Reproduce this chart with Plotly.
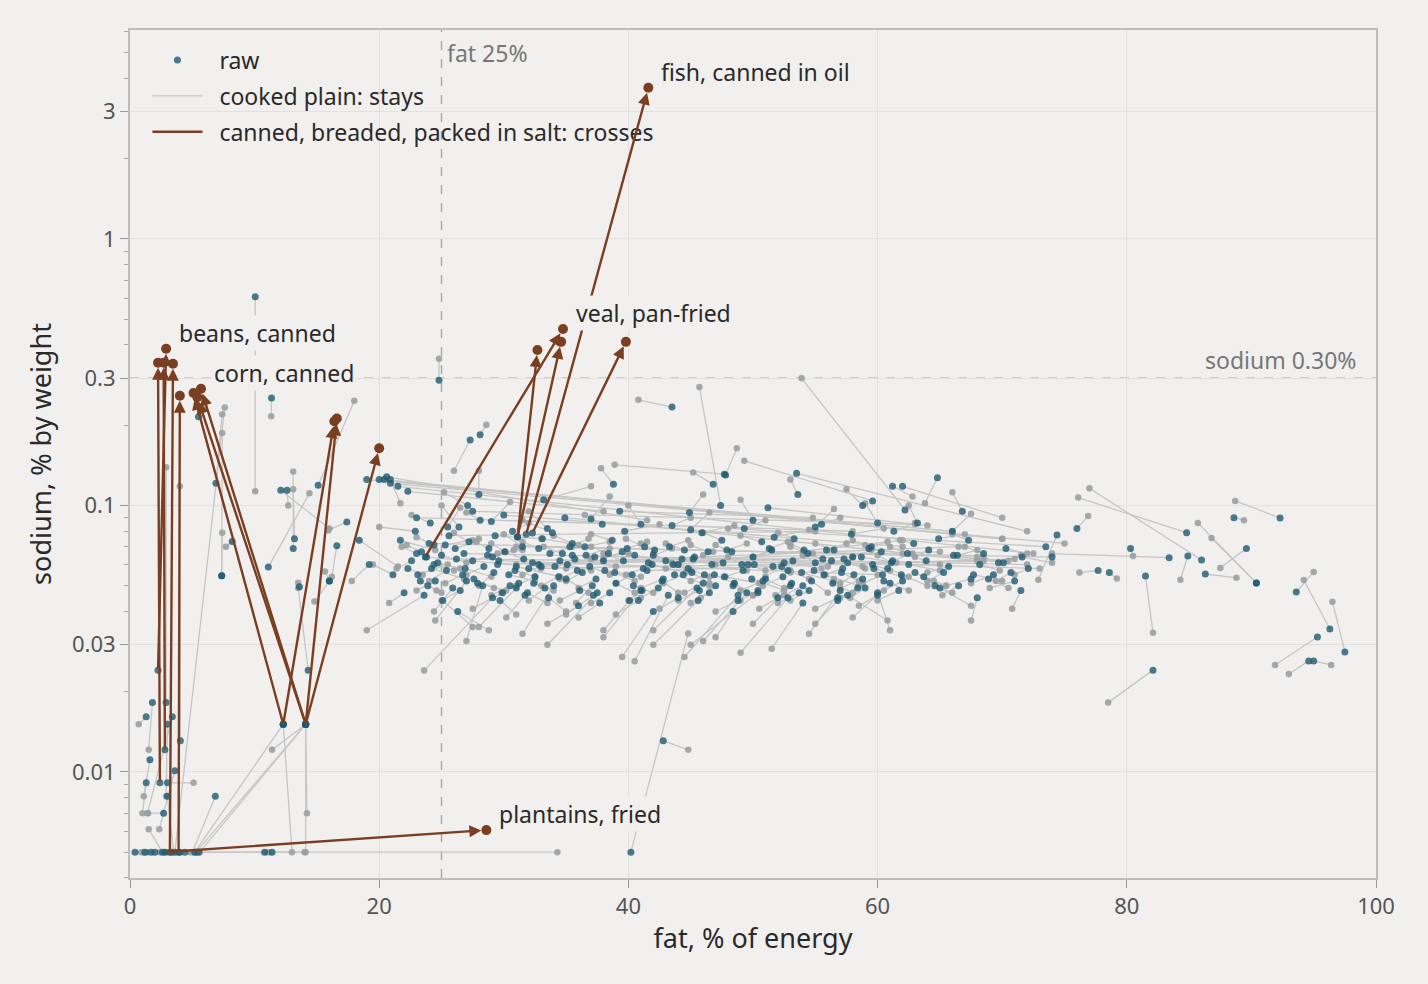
import math

import plotly.graph_objects as go

# ── Data: raw -> cooked pairs (fat % of energy, sodium % by weight) ──────────

# low-fat foods, many at the detection floor
LOW_RAW_FAT = [
    0.4, 1.2, 1.7, 2.0, 2.6, 3.3, 3.6, 4.0, 4.4, 5.2,
    5.5, 10.8, 11.4, 1.3, 1.8, 1.6, 1.3, 3.4, 3.0, 6.85,
    4.04, 3.6, 3.0, 3.0, 2.7, 14.1, 14.1, 12.3, 14.1, 14.1,
    12.3, 14.1, 40.2, 42.8, 10.05, 11.36, 6.9, 7.36, 7.36, 8.2,
    13.1, 13.2, 11.1, 12.1, 12.6, 15.1, 17.4, 16.6, 16.0, 13.6,
    16.0, 14.3, 5.5, 20.9, 18.4, 19.2, 2.9, 20.0, 19.0, 20.9,
]
LOW_RAW_NA = [
    0.005, 0.005, 0.005, 0.005, 0.005, 0.005, 0.005, 0.005, 0.005, 0.005,
    0.005, 0.005, 0.005, 0.0161, 0.0182, 0.0111, 0.0091, 0.0161, 0.0151, 0.0081,
    0.0131, 0.0101, 0.0091, 0.0081, 0.0070, 0.0151, 0.0151, 0.0151, 0.0151, 0.0151,
    0.0151, 0.0151, 0.005, 0.0131, 0.607, 0.253, 0.121, 0.0545, 0.0545, 0.0733,
    0.069, 0.075, 0.0587, 0.114, 0.114, 0.119, 0.0867, 0.0706, 0.052, 0.0495,
    0.052, 0.0241, 0.215, 0.125, 0.074, 0.060, 0.0182, 0.125, 0.125, 0.121,
]
LOW_COOKED_FAT = [
    1.1, 0.9, 1.4, 2.4, 1.5, 2.9, 7.6, 4.8, 5.4, 14.0,
    34.3, 11.2, 11.0, 0.7, 1.5, 1.1, 1.0, 1.4, 2.9, 5.0,
    4.0, 2.35, 5.1, 3.5, 1.45, 5.3, 5.6, 5.2, 14.2, 14.1,
    13.0, 11.4, 44.8, 44.8, 10.05, 11.33, 7.4, 7.4, 7.4, 7.7,
    13.1, 13.1, 14.4, 16.0, 12.7, 18.0, 15.9, 16.2, 15.65, 13.5,
    14.8, 13.5, 6.0, 21.7, 21.5, 17.8, 2.9, 70.0, 66.0, 75.0,
]
LOW_COOKED_NA = [
    0.005, 0.005, 0.005, 0.005, 0.0061, 0.005, 0.233, 0.005, 0.005, 0.005,
    0.005, 0.005, 0.005, 0.0151, 0.0121, 0.0081, 0.0070, 0.0070, 0.0081, 0.005,
    0.118, 0.0061, 0.0091, 0.005, 0.0070, 0.005, 0.005, 0.005, 0.0070, 0.005,
    0.005, 0.0121, 0.0331, 0.0121, 0.113, 0.216, 0.220, 0.187, 0.079, 0.070,
    0.134, 0.115, 0.111, 0.082, 0.100, 0.247, 0.0806, 0.054, 0.0565, 0.0513,
    0.0436, 0.049, 0.230, 0.102, 0.059, 0.052, 0.139, 0.075, 0.080, 0.072,
]

# the main band of meats, fish, nuts and oils
MID_RAW_FAT = [
    21.7, 22.6, 23.1, 23.4, 24.2, 23.8, 24.5, 25.3, 24.1, 25.9,
    21.1, 22.9, 26.2, 20.4, 21.5, 25.1, 23.6, 26.4, 24.4, 25.6,
    26.9, 27.2, 27.9, 28.1, 28.7, 29.2, 29.3, 29.9, 30.1, 30.7,
    31.0, 31.5, 27.1, 28.0, 31.7, 26.3, 29.6, 30.0, 29.1, 28.3,
    32.3, 32.5, 33.1, 33.3, 33.9, 34.1, 34.7, 35.0, 35.5, 35.7,
    36.3, 36.5, 37.1, 37.3, 37.9, 33.2, 36.0, 34.9, 32.8, 37.2,
    38.1, 38.7, 39.0, 39.5, 39.7, 40.3, 40.5, 41.1, 41.3, 41.9,
    42.1, 42.7, 43.0, 43.5, 43.7, 38.8, 40.1, 42.0, 43.2, 39.3,
    44.3, 44.5, 45.1, 45.3, 45.9, 46.1, 46.7, 47.0, 47.5, 47.7,
    48.3, 48.5, 49.1, 49.3, 49.9, 45.6, 48.8, 46.8, 44.9, 48.4,
    50.1, 50.7, 51.0, 51.5, 51.7, 52.3, 52.5, 53.1, 53.3, 53.9,
    54.1, 54.7, 55.0, 55.5, 55.7, 50.4, 52.8, 54.0, 51.2, 53.6,
    56.3, 56.5, 57.1, 57.3, 57.9, 58.1, 58.7, 59.0, 59.5, 59.7,
    60.3, 60.5, 61.1, 61.3, 61.9, 57.6, 60.0, 58.8, 62.0, 56.8,
    62.5, 62.9, 63.7, 64.1, 64.9, 65.3, 66.1, 66.5, 67.3, 67.7,
    68.5, 68.9, 69.7, 65.0, 63.2, 66.8, 70.3, 70.7, 71.6, 72.1,
]
MID_RAW_NA = [
    0.074, 0.062, 0.055, 0.067, 0.058, 0.064, 0.052, 0.071, 0.086, 0.049,
    0.055, 0.080, 0.063, 0.125, 0.118, 0.044, 0.046, 0.083, 0.060, 0.077,
    0.058, 0.073, 0.051, 0.088, 0.065, 0.056, 0.077, 0.047, 0.067, 0.080,
    0.059, 0.070, 0.100, 0.110, 0.046, 0.040, 0.062, 0.092, 0.045, 0.050,
    0.061, 0.054, 0.075, 0.049, 0.079, 0.059, 0.066, 0.053, 0.072, 0.063,
    0.056, 0.070, 0.050, 0.064, 0.085, 0.105, 0.042, 0.090, 0.060, 0.046,
    0.057, 0.074, 0.051, 0.067, 0.080, 0.055, 0.065, 0.048, 0.070, 0.060,
    0.068, 0.052, 0.062, 0.084, 0.055, 0.120, 0.044, 0.040, 0.046, 0.095,
    0.063, 0.068, 0.056, 0.064, 0.079, 0.055, 0.060, 0.050, 0.074, 0.054,
    0.067, 0.051, 0.060, 0.082, 0.053, 0.044, 0.046, 0.120, 0.094, 0.040,
    0.060, 0.073, 0.053, 0.068, 0.076, 0.059, 0.061, 0.051, 0.075, 0.056,
    0.068, 0.052, 0.061, 0.085, 0.055, 0.047, 0.045, 0.043, 0.098, 0.110,
    0.062, 0.068, 0.056, 0.063, 0.078, 0.055, 0.064, 0.049, 0.070, 0.058,
    0.067, 0.052, 0.061, 0.080, 0.055, 0.046, 0.047, 0.100, 0.118, 0.044,
    0.060, 0.072, 0.054, 0.068, 0.075, 0.056, 0.065, 0.050, 0.074, 0.055,
    0.066, 0.053, 0.061, 0.049, 0.086, 0.095, 0.069, 0.056, 0.064, 0.058,
]
MID_COOKED_FAT = [
    24.5, 21.4, 25.5, 22.2, 26.8, 31.0, 23.0, 28.0, 22.6, 24.4,
    19.5, 20.0, 65.0, 70.0, 72.5, 27.5, 19.0, 25.0, 26.0, 55.0,
    29.0, 26.0, 30.2, 27.0, 31.5, 28.0, 33.0, 27.5, 29.0, 32.0,
    34.5, 30.0, 25.2, 28.0, 30.2, 28.8, 60.0, 62.0, 23.6, 27.0,
    35.0, 31.0, 36.0, 32.0, 31.5, 37.0, 33.2, 36.8, 34.0, 39.0,
    35.0, 38.5, 35.8, 40.0, 36.5, 37.0, 33.5, 68.0, 58.0, 35.0,
    41.0, 37.0, 40.5, 38.0, 42.5, 39.0, 43.5, 40.0, 39.8, 44.6,
    41.0, 44.0, 42.0, 45.0, 46.5, 37.8, 38.0, 39.5, 40.5, 54.8,
    47.0, 43.0, 46.5, 44.0, 48.5, 45.0, 49.5, 45.8, 46.0, 50.5,
    47.0, 50.0, 48.0, 51.0, 52.5, 42.0, 44.5, 45.2, 46.0, 47.0,
    53.0, 49.0, 52.5, 50.0, 54.5, 51.0, 55.5, 51.8, 52.0, 56.5,
    53.0, 56.0, 54.0, 57.0, 58.5, 45.0, 49.0, 51.5, 64.0, 53.0,
    58.8, 55.0, 58.5, 56.0, 60.5, 57.0, 61.5, 57.8, 58.0, 62.0,
    59.0, 62.5, 60.0, 63.0, 64.0, 60.8, 61.0, 57.5, 70.0, 55.0,
    65.0, 61.8, 65.5, 63.0, 67.0, 64.0, 68.5, 65.2, 66.0, 70.0,
    67.0, 70.5, 68.5, 67.5, 62.5, 66.0, 72.0, 69.5, 74.0, 71.0,
]
MID_COOKED_NA = [
    0.068, 0.058, 0.060, 0.071, 0.053, 0.060, 0.048, 0.075, 0.092, 0.040,
    0.060, 0.083, 0.060, 0.075, 0.066, 0.035, 0.034, 0.100, 0.057, 0.080,
    0.054, 0.079, 0.048, 0.094, 0.068, 0.050, 0.075, 0.041, 0.072, 0.086,
    0.054, 0.078, 0.112, 0.135, 0.038, 0.034, 0.055, 0.070, 0.024, 0.031,
    0.058, 0.050, 0.071, 0.044, 0.088, 0.063, 0.070, 0.047, 0.077, 0.059,
    0.052, 0.073, 0.043, 0.066, 0.092, 0.118, 0.036, 0.062, 0.064, 0.039,
    0.054, 0.078, 0.047, 0.063, 0.085, 0.051, 0.061, 0.044, 0.075, 0.056,
    0.072, 0.047, 0.066, 0.090, 0.050, 0.138, 0.034, 0.027, 0.026, 0.090,
    0.060, 0.072, 0.051, 0.060, 0.084, 0.052, 0.057, 0.045, 0.079, 0.051,
    0.071, 0.046, 0.064, 0.088, 0.048, 0.030, 0.027, 0.133, 0.110, 0.032,
    0.057, 0.077, 0.049, 0.064, 0.081, 0.054, 0.058, 0.046, 0.079, 0.052,
    0.072, 0.047, 0.065, 0.090, 0.050, 0.030, 0.028, 0.029, 0.084, 0.125,
    0.059, 0.072, 0.052, 0.059, 0.082, 0.051, 0.061, 0.045, 0.074, 0.054,
    0.071, 0.048, 0.065, 0.086, 0.050, 0.037, 0.034, 0.115, 0.090, 0.036,
    0.057, 0.074, 0.050, 0.064, 0.078, 0.052, 0.062, 0.046, 0.078, 0.052,
    0.070, 0.049, 0.064, 0.042, 0.100, 0.112, 0.066, 0.052, 0.061, 0.055,
]

# second batch of the main band (denser core, long and downward links)
CORE_RAW_FAT = [
    22.3, 23.0, 23.9, 24.7, 25.4, 26.1, 26.7, 27.5, 28.4, 29.1,
    22.0, 23.3, 24.4, 25.0, 26.5, 27.6, 28.8, 29.7, 30.4, 31.2,
    30.9, 31.6, 32.4, 33.0, 33.7, 34.4, 35.1, 35.9, 36.6, 37.4,
    30.5, 31.9, 32.8, 33.6, 34.5, 35.3, 36.1, 36.9, 37.7, 38.4,
    38.9, 39.6, 40.4, 41.2, 42.0, 42.8, 43.6, 44.4, 45.2, 46.0,
    38.5, 39.9, 40.8, 41.6, 42.4, 43.3, 44.0, 44.8, 45.7, 46.4,
    46.9, 47.6, 48.4, 49.2, 50.0, 50.8, 51.6, 52.4, 53.2, 54.0,
    46.5, 47.9, 48.8, 49.6, 50.4, 51.3, 52.0, 52.8, 53.7, 54.4,
    54.9, 55.6, 56.4, 57.2, 58.0, 58.8, 59.6, 60.4, 61.2, 62.0,
    54.5, 55.9, 56.8, 57.6, 58.4, 59.3, 60.0, 60.8, 61.7, 62.4,
    63.0, 63.9, 64.6, 65.7, 66.4, 67.5, 68.2, 69.3, 70.1, 71.0,
    24.0, 26.8, 29.5, 32.0, 35.5, 38.0, 41.5, 44.0, 23.0, 27.5,
    27.0, 31.0, 34.0, 37.5, 41.0, 45.5, 49.5, 53.0, 57.0, 61.0,
    25.5, 29.0, 33.5, 37.0, 41.0, 45.0, 50.0, 55.0, 60.0, 66.0,
]
CORE_RAW_NA = [
    0.058, 0.066, 0.050, 0.061, 0.057, 0.069, 0.055, 0.062, 0.059, 0.064,
    0.047, 0.052, 0.071, 0.065, 0.048, 0.053, 0.069, 0.044, 0.055, 0.051,
    0.057, 0.063, 0.051, 0.059, 0.066, 0.054, 0.060, 0.057, 0.065, 0.053,
    0.050, 0.047, 0.069, 0.045, 0.062, 0.070, 0.048, 0.059, 0.043, 0.066,
    0.056, 0.062, 0.050, 0.058, 0.065, 0.053, 0.060, 0.055, 0.063, 0.051,
    0.047, 0.069, 0.044, 0.061, 0.049, 0.070, 0.045, 0.058, 0.048, 0.067,
    0.055, 0.061, 0.050, 0.057, 0.064, 0.052, 0.059, 0.054, 0.062, 0.050,
    0.047, 0.068, 0.044, 0.060, 0.048, 0.069, 0.045, 0.057, 0.047, 0.066,
    0.057, 0.063, 0.051, 0.058, 0.064, 0.053, 0.060, 0.055, 0.062, 0.052,
    0.048, 0.068, 0.045, 0.061, 0.049, 0.069, 0.046, 0.058, 0.048, 0.066,
    0.056, 0.062, 0.050, 0.059, 0.065, 0.053, 0.060, 0.055, 0.061, 0.052,
    0.072, 0.066, 0.060, 0.058, 0.065, 0.062, 0.057, 0.060, 0.090, 0.095,
    0.052, 0.049, 0.050, 0.047, 0.048, 0.049, 0.047, 0.050, 0.048, 0.051,
    0.083, 0.087, 0.082, 0.089, 0.085, 0.081, 0.088, 0.083, 0.086, 0.080,
]
CORE_COOKED_FAT = [
    23.5, 21.8, 25.0, 26.5, 24.0, 27.8, 25.3, 29.5, 27.0, 30.8,
    20.8, 24.6, 23.0, 27.0, 25.0, 29.2, 27.5, 31.0, 32.5, 29.8,
    32.5, 30.0, 34.0, 31.5, 35.5, 33.0, 37.0, 34.5, 38.5, 36.0,
    29.0, 33.5, 31.5, 35.0, 33.0, 36.8, 34.5, 38.5, 36.0, 37.0,
    40.5, 38.0, 42.0, 39.8, 43.5, 41.0, 45.0, 42.8, 46.8, 44.5,
    37.0, 41.5, 39.0, 43.0, 41.0, 44.8, 42.5, 46.5, 44.0, 45.0,
    48.5, 46.0, 50.0, 47.8, 51.5, 49.0, 53.0, 50.8, 54.8, 52.5,
    45.0, 49.5, 47.0, 51.0, 49.0, 52.8, 50.5, 54.5, 52.0, 53.0,
    56.5, 54.0, 58.0, 55.8, 59.5, 57.0, 61.0, 58.8, 62.8, 60.5,
    53.0, 57.5, 55.0, 59.0, 57.0, 60.8, 58.5, 62.5, 60.0, 61.0,
    64.5, 62.0, 66.0, 64.0, 68.0, 65.5, 69.8, 67.5, 71.5, 69.0,
    68.0, 72.0, 65.0, 70.5, 73.0, 66.5, 71.0, 62.0, 58.0, 63.0,
    24.5, 28.0, 31.5, 33.5, 38.0, 42.0, 46.0, 50.0, 54.5, 58.0,
    26.5, 30.5, 32.0, 38.5, 40.0, 46.5, 49.0, 56.5, 59.0, 67.5,
]
CORE_COOKED_NA = [
    0.055, 0.070, 0.047, 0.058, 0.052, 0.073, 0.051, 0.066, 0.055, 0.068,
    0.043, 0.048, 0.076, 0.061, 0.044, 0.049, 0.074, 0.039, 0.052, 0.047,
    0.054, 0.067, 0.048, 0.055, 0.070, 0.050, 0.057, 0.053, 0.069, 0.049,
    0.046, 0.043, 0.073, 0.040, 0.058, 0.075, 0.044, 0.055, 0.038, 0.070,
    0.052, 0.066, 0.047, 0.055, 0.069, 0.049, 0.057, 0.051, 0.067, 0.047,
    0.043, 0.073, 0.039, 0.058, 0.045, 0.074, 0.041, 0.054, 0.044, 0.071,
    0.051, 0.065, 0.046, 0.054, 0.068, 0.048, 0.056, 0.050, 0.066, 0.046,
    0.043, 0.072, 0.040, 0.057, 0.044, 0.073, 0.041, 0.053, 0.043, 0.070,
    0.053, 0.067, 0.047, 0.055, 0.068, 0.049, 0.057, 0.051, 0.066, 0.048,
    0.044, 0.072, 0.041, 0.058, 0.045, 0.073, 0.042, 0.054, 0.044, 0.070,
    0.052, 0.066, 0.047, 0.056, 0.068, 0.050, 0.057, 0.051, 0.065, 0.049,
    0.064, 0.060, 0.067, 0.062, 0.058, 0.070, 0.063, 0.074, 0.080, 0.085,
    0.037, 0.035, 0.033, 0.030, 0.032, 0.034, 0.031, 0.036, 0.033, 0.038,
    0.098, 0.103, 0.095, 0.108, 0.100, 0.094, 0.105, 0.097, 0.102, 0.093,
]

# outliers and the high-fat tail
TAIL_RAW_FAT = [
    24.8, 43.5, 62.2, 47.8, 59.6, 28.1, 27.3, 61.2, 64.8, 84.8,
    86.0, 76.0, 92.3, 88.6, 90.4, 90.4, 89.6, 86.3, 84.9, 83.4,
    80.3, 93.6, 96.3, 97.5, 95.3, 94.6, 95.0, 82.1, 81.5, 74.4,
    78.6, 77.7, 73.5, 74.0, 53.5, 47.4, 47.7, 22.3, 20.6, 68.0, 71.5,
]
TAIL_RAW_NA = [
    0.295, 0.234, 0.0962, 0.130, 0.104, 0.184, 0.176, 0.118, 0.127, 0.079,
    0.0624, 0.082, 0.0898, 0.090, 0.0512, 0.0512, 0.069, 0.0553, 0.0646, 0.0637,
    0.069, 0.0473, 0.0344, 0.0282, 0.0321, 0.0261, 0.0261, 0.0241, 0.0544, 0.0775,
    0.056, 0.057, 0.070, 0.064, 0.132, 0.100, 0.131, 0.113, 0.128, 0.045, 0.048,
]
TAIL_COOKED_FAT = [
    24.8, 40.8, 53.9, 48.7, 49.3, 28.6, 26.0, 62.8, 63.8, 76.1,
    77.0, 76.9, 88.7, 89.4, 85.7, 86.8, 87.5, 88.8, 84.3, 74.0,
    80.5, 95.0, 94.2, 96.5, 91.9, 93.0, 96.4, 78.5, 82.1, 72.9,
    79.2, 76.2, 48.0, 31.0, 72.0, 45.7, 38.9, 38.0, 41.5, 67.5, 70.8,
]
TAIL_COOKED_NA = [
    0.355, 0.249, 0.300, 0.164, 0.147, 0.201, 0.135, 0.108, 0.102, 0.107,
    0.116, 0.0913, 0.104, 0.088, 0.086, 0.0755, 0.0583, 0.0535, 0.0526, 0.066,
    0.0646, 0.0563, 0.0525, 0.0435, 0.0252, 0.0233, 0.0252, 0.0182, 0.0333, 0.0526,
    0.0532, 0.056, 0.082, 0.070, 0.080, 0.278, 0.142, 0.095, 0.088, 0.037, 0.041,
]

# canned / breaded / salted: cross the 0.30% line
CROSS_RAW_FAT = [2.4, 2.25, 2.8, 3.2, 3.9, 12.3, 14.1, 14.1, 12.3, 14.1, 14.1,
                 31.1, 31.1, 23.7, 32.3, 31.8, 2.8]
CROSS_RAW_NA = [0.0091, 0.0241, 0.0121, 0.005, 0.005, 0.0151, 0.0151, 0.0151, 0.0151,
                0.0151, 0.0151, 0.0762, 0.0762, 0.0641, 0.0788, 0.078, 0.005]
CROSS_COOKED_FAT = [2.25, 2.9, 2.7, 3.45, 4.0, 5.1, 5.7, 5.4, 16.4, 16.6, 20.0,
                    32.7, 34.6, 34.75, 39.8, 41.6, 28.6]
CROSS_COOKED_NA = [0.343, 0.387, 0.343, 0.340, 0.258, 0.264, 0.274, 0.255, 0.207,
                   0.212, 0.164, 0.383, 0.411, 0.459, 0.411, 3.69, 0.00605]

# index into the CROSS_* lists for each label
LABELS = [
    ("beans, canned", 1),
    ("corn, canned", 6),
    ("veal, pan-fried", 13),
    ("fish, canned in oil", 15),
    ("plantains, fried", 16),
]

FAT_REF = 25
SODIUM_REF = 0.3

Y_TICKS = [0.01, 0.03, 0.1, 0.3, 1, 3]
Y_TICKTEXT = ["0.01", "0.03", "0.1", "0.3", "1", "3"]
X_TICKS = [0, 20, 40, 60, 80, 100]

BG = "#f1f0ee"
TEAL = "#1f5b70"
GREY_DOT = "#9aa0a3"
GREY_LINE = "#c6c6c6"
BROWN = "#7a3e22"
FONT = "Noto Sans"
GAP = "\u00a0\u00a0"   # extra room between legend symbol and text


def segments(x0, y0, x1, y1):
    xs, ys = [], []
    for a, b, c, d in zip(x0, y0, x1, y1):
        xs += [a, c, None]
        ys += [b, d, None]
    return xs, ys


raw_fat = LOW_RAW_FAT + MID_RAW_FAT + CORE_RAW_FAT + TAIL_RAW_FAT
raw_na = LOW_RAW_NA + MID_RAW_NA + CORE_RAW_NA + TAIL_RAW_NA
cooked_fat = LOW_COOKED_FAT + MID_COOKED_FAT + CORE_COOKED_FAT + TAIL_COOKED_FAT
cooked_na = LOW_COOKED_NA + MID_COOKED_NA + CORE_COOKED_NA + TAIL_COOKED_NA
assert len(raw_fat) == len(raw_na) == len(cooked_fat) == len(cooked_na)

fig = go.Figure()

# ── grey connectors and cooked points ────────────────────────────────────
lx, ly = segments(raw_fat, raw_na, cooked_fat, cooked_na)
fig.add_trace(go.Scatter(
    x=lx, y=ly, mode="lines",
    line=dict(color=GREY_LINE, width=1.3),
    name=GAP + "cooked plain: stays", legendrank=2, legendgroup="stays",
    hoverinfo="skip",
))
fig.add_trace(go.Scatter(
    x=cooked_fat, y=cooked_na, mode="markers",
    marker=dict(color=GREY_DOT, size=6.5, opacity=0.9),
    showlegend=False, name="cooked", legendgroup="stays",
))

# ── raw points ───────────────────────────────────────────────────────────
fig.add_trace(go.Scatter(
    x=raw_fat + CROSS_RAW_FAT, y=raw_na + CROSS_RAW_NA, mode="markers",
    marker=dict(color=TEAL, size=7, opacity=0.8),
    name=GAP + "raw", legendrank=1, legendgroup="raw",
))

# ── crossing items: brown dots + arrows ──────────────────────────────────
fig.add_trace(go.Scatter(
    x=[None], y=[None], mode="lines",
    line=dict(color=BROWN, width=2.5),
    name=GAP + "canned, breaded, packed in salt: crosses", legendrank=3,
    legendgroup="crosses",
))
fig.add_trace(go.Scatter(
    x=CROSS_COOKED_FAT, y=CROSS_COOKED_NA, mode="markers",
    marker=dict(color=BROWN, size=10),
    showlegend=False, name="crosses", legendgroup="crosses",
))

annotations = []
for rf, rn, cf, cn in zip(CROSS_RAW_FAT, CROSS_RAW_NA, CROSS_COOKED_FAT, CROSS_COOKED_NA):
    annotations.append(dict(
        x=cf, y=math.log10(cn), ax=rf, ay=math.log10(rn),
        xref="x", yref="y", axref="x", ayref="y",
        text="", showarrow=True,
        arrowhead=2, arrowsize=1.0, arrowwidth=2.4, arrowcolor=BROWN,
        standoff=5,
    ))

for text, i in LABELS:
    annotations.append(dict(
        x=CROSS_COOKED_FAT[i], y=math.log10(CROSS_COOKED_NA[i]),
        xref="x", yref="y", text=text, showarrow=False,
        xanchor="left", yanchor="middle", xshift=11, yshift=16,
        font=dict(family=FONT, size=23, color="#2a2a2a"),
        bgcolor=BG, borderpad=1,
    ))

annotations.append(dict(
    x=FAT_REF, y=1, xref="x", yref="paper", text="fat 25%", showarrow=False,
    xanchor="left", yanchor="top", xshift=3, yshift=-5,
    font=dict(family=FONT, size=23, color="#777777"),
))
annotations.append(dict(
    x=1, y=math.log10(SODIUM_REF), xref="paper", yref="y", text="sodium 0.30%",
    showarrow=False, xanchor="right", yanchor="bottom", xshift=-18, yshift=0,
    font=dict(family=FONT, size=23, color="#777777"),
))

fig.add_vline(x=FAT_REF, line=dict(color="#aaaaaa", width=1.5, dash="dash"), layer="below")
fig.add_hline(y=SODIUM_REF, line=dict(color="#aaaaaa", width=1.5, dash="dash"), layer="below")

fig.update_xaxes(
    range=[0, 100], tickvals=X_TICKS,
    title=dict(text="fat, % of energy", font=dict(size=27, color="#2a2a2a"), standoff=10),
    tickfont=dict(size=22, color="#555555"),
    showgrid=True, gridcolor="#e2e1de", gridwidth=1,
    showline=True, linecolor="#bdbdbd", linewidth=2, mirror=True,
    ticks="outside", ticklen=8, tickcolor="#999999", zeroline=False,
)
fig.update_yaxes(
    type="log", range=[-2.398, 0.784],
    tickvals=Y_TICKS, ticktext=Y_TICKTEXT,
    title=dict(text="sodium, % by weight", font=dict(size=27, color="#2a2a2a"), standoff=12),
    tickfont=dict(size=22, color="#555555"),
    showgrid=True, gridcolor="#e2e1de", gridwidth=1,
    showline=True, linecolor="#bdbdbd", linewidth=2, mirror=True,
    ticks="outside", ticklen=8, tickcolor="#999999", zeroline=False,
    minor=dict(ticks="outside", ticklen=4, tickcolor="#aaaaaa", dtick="D1", showgrid=False),
)

fig.update_layout(
    width=1428, height=984,
    margin=dict(l=130, r=52, t=30, b=106),
    paper_bgcolor=BG, plot_bgcolor=BG,
    font=dict(family=FONT, color="#2a2a2a"),
    annotations=annotations,
    legend=dict(
        x=0.014, y=0.99, xanchor="left", yanchor="top",
        bgcolor="rgba(0,0,0,0)", font=dict(size=23, color="#2a2a2a"),
        itemwidth=50, tracegroupgap=3, groupclick="toggleitem",
    ),
    hovermode="closest",
)

fig.write_html(
    "out.html",
    config={"displayModeBar": False},
    post_script="document.body.style.margin='0';document.body.style.overflow='hidden';",
)
